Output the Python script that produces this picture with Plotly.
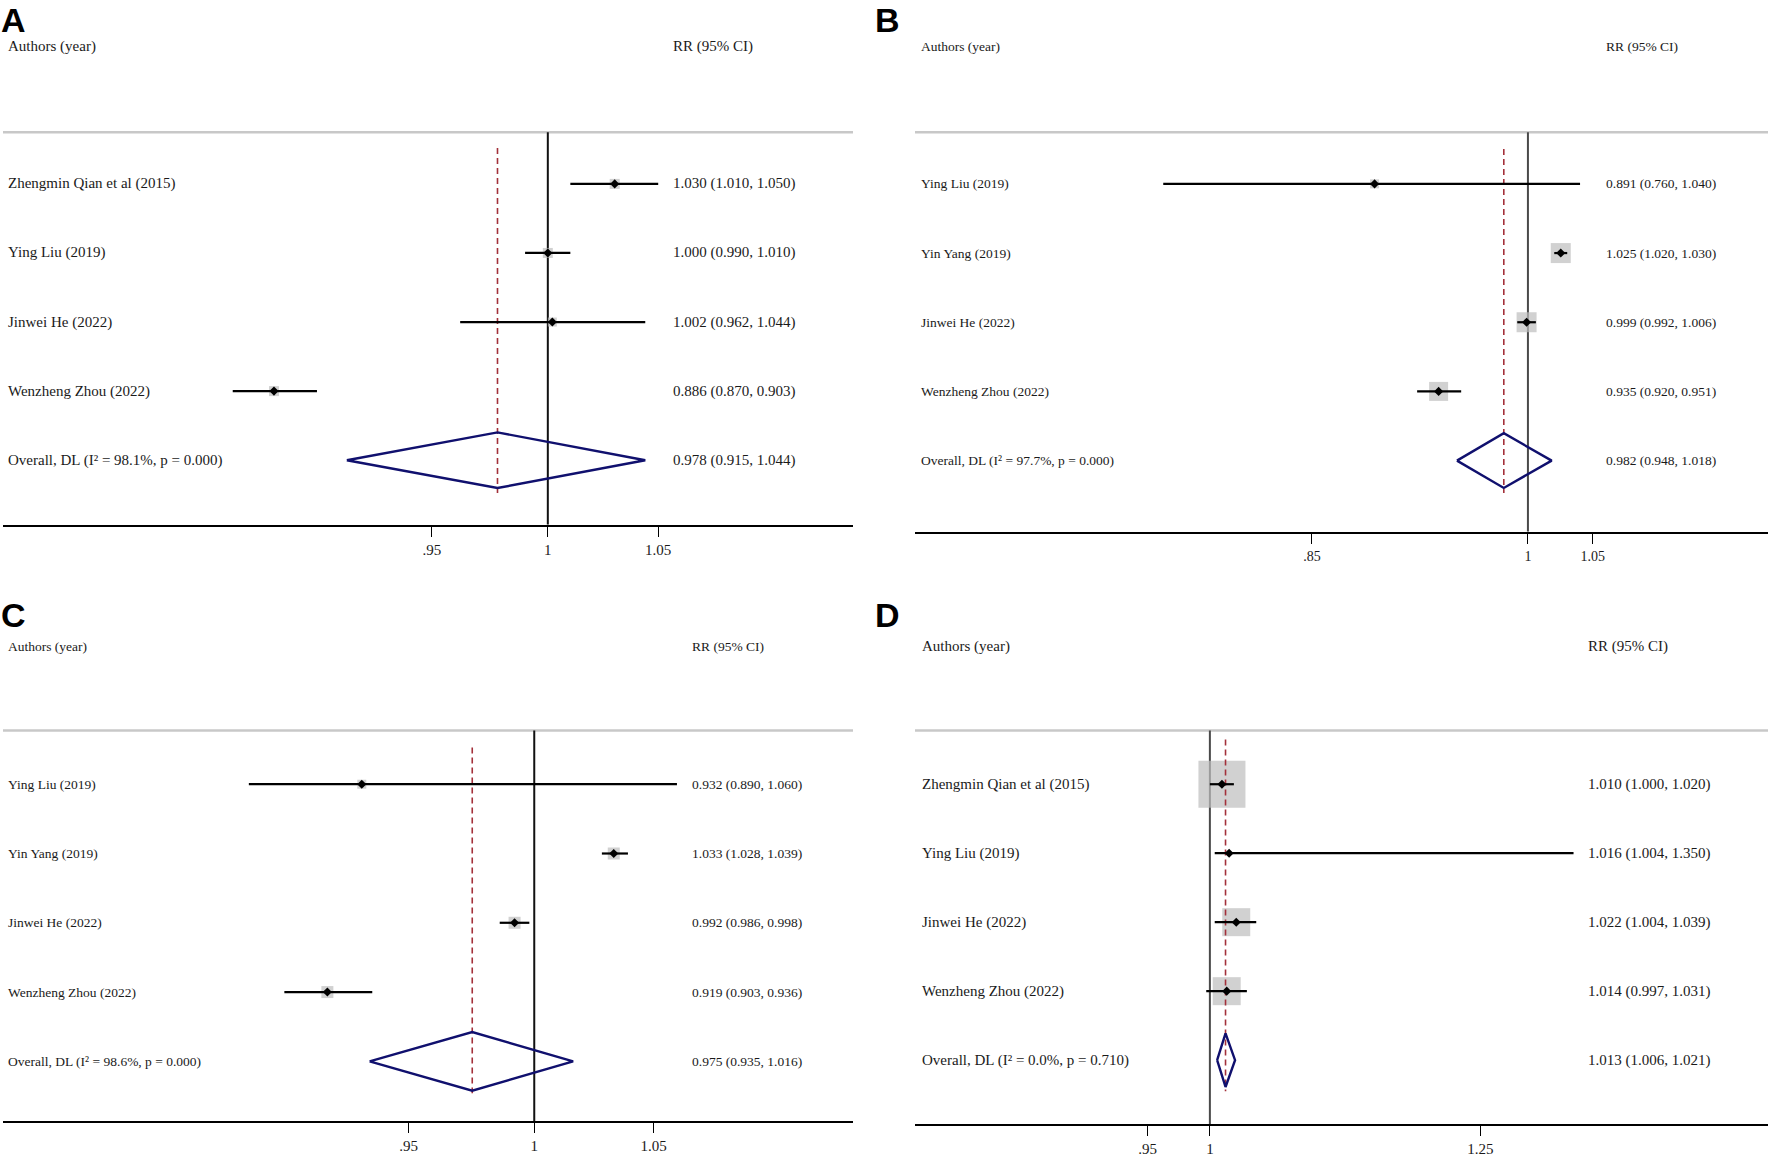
import math
import plotly.graph_objects as go

W, H = 1772, 1157

# ---------------- data ----------------
A_names = ["Zhengmin Qian et al (2015)", "Ying Liu (2019)", "Jinwei He (2022)", "Wenzheng Zhou (2022)"]
A_est = [1.030, 1.000, 1.002, 0.886]
A_lo = [1.010, 0.990, 0.962, 0.870]
A_hi = [1.050, 1.010, 1.044, 0.903]
A_overall = [0.978, 0.915, 1.044]
A_i2 = "98.1%"
A_p = "0.000"
A_box = [10, 10, 9, 10]
A_ticks = [0.95, 1, 1.05]
A_ticktext = [".95", "1", "1.05"]

B_names = ["Ying Liu (2019)", "Yin Yang (2019)", "Jinwei He (2022)", "Wenzheng Zhou (2022)"]
B_est = [0.891, 1.025, 0.999, 0.935]
B_lo = [0.760, 1.020, 0.992, 0.920]
B_hi = [1.040, 1.030, 1.006, 0.951]
B_overall = [0.982, 0.948, 1.018]
B_i2 = "97.7%"
B_p = "0.000"
B_box = [9, 20, 20, 19]
B_ticks = [0.85, 1, 1.05]
B_ticktext = [".85", "1", "1.05"]

C_names = ["Ying Liu (2019)", "Yin Yang (2019)", "Jinwei He (2022)", "Wenzheng Zhou (2022)"]
C_est = [0.932, 1.033, 0.992, 0.919]
C_lo = [0.890, 1.028, 0.986, 0.903]
C_hi = [1.060, 1.039, 0.998, 0.936]
C_overall = [0.975, 0.935, 1.016]
C_i2 = "98.6%"
C_p = "0.000"
C_box = [9, 12, 12, 12]
C_ticks = [0.95, 1, 1.05]
C_ticktext = [".95", "1", "1.05"]

D_names = ["Zhengmin Qian et al (2015)", "Ying Liu (2019)", "Jinwei He (2022)", "Wenzheng Zhou (2022)"]
D_est = [1.010, 1.016, 1.022, 1.014]
D_lo = [1.000, 1.004, 1.004, 0.997]
D_hi = [1.020, 1.350, 1.039, 1.031]
D_overall = [1.013, 1.006, 1.021]
D_i2 = "0.0%"
D_p = "0.710"
D_box = [47, 0, 28, 28]
D_ticks = [0.95, 1, 1.25]
D_ticktext = [".95", "1", "1.25"]

# ---------------- layout geometry (pixels) ----------------
panels = [
    dict(letter="A", names=A_names, est=A_est, lo=A_lo, hi=A_hi, ov=A_overall, i2=A_i2, p=A_p,
         box=A_box, ticks=A_ticks, ticktext=A_ticktext,
         x0=3, x1=853, xlo=0.786, xhi=1.1444, top=0, axis=528, row0=185, drow=69.5, sep=133,
         header=47, letter_y=0, label_x=6, est_x=671, dash=(149, 496), dia_h=28,
         font=15, tickfont=15, refcol="#111111"),
    dict(letter="B", names=B_names, est=B_est, lo=B_lo, hi=B_hi, ov=B_overall, i2=B_i2, p=B_p,
         box=B_box, ticks=B_ticks, ticktext=B_ticktext,
         x0=915, x1=1768, xlo=0.6305, xhi=1.198, top=0, axis=535, row0=185, drow=69.6, sep=133,
         header=47, letter_y=0, label_x=919, est_x=1604, dash=(150, 496), dia_h=27.5,
         font=13.5, tickfont=14, refcol="#4a4a4a"),
    dict(letter="C", names=C_names, est=C_est, lo=C_lo, hi=C_hi, ov=C_overall, i2=C_i2, p=C_p,
         box=C_box, ticks=C_ticks, ticktext=C_ticktext,
         x0=3, x1=853, xlo=0.805, xhi=1.139, top=588, axis=1128, row0=789, drow=69.7, sep=735,
         header=650, letter_y=599, label_x=6, est_x=690, dash=(752, 1100), dia_h=29.5,
         font=13.5, tickfont=15, refcol="#111111"),
    dict(letter="D", names=D_names, est=D_est, lo=D_lo, hi=D_hi, ov=D_overall, i2=D_i2, p=D_p,
         box=D_box, ticks=D_ticks, ticktext=D_ticktext,
         x0=915, x1=1768, xlo=0.784, xhi=1.585, top=588, axis=1131, row0=789, drow=69.4, sep=735,
         header=650, letter_y=599, label_x=920, est_x=1586, dash=(744, 1098), dia_h=27,
         font=15, tickfont=15, refcol="#4a4a4a"),
]
LETTER_X = [0, 874, 0, 874]

SERIF = "Liberation Serif, Times New Roman, serif"
LETTER_FONT = "Liberation Sans Narrow, Arial Narrow, Liberation Sans, Arial, sans-serif"
TXT = "#1a1a1a"

fig = go.Figure()
annotations = []
shapes = []
layout_axes = {}


def px(x):
    return x / W


def py(y):
    return 1 - y / H


for i, P in enumerate(panels):
    k = "" if i == 0 else str(i + 1)
    xa, ya = "x" + k, "y" + k

    def row(pix, P=P):
        return (pix - P["row0"]) / P["drow"]

    n = len(P["names"])
    rows = list(range(n))
    ov_row = n

    # axes
    layout_axes["xaxis" + k] = dict(
        type="log", domain=[px(P["x0"]), px(P["x1"])],
        range=[math.log10(P["xlo"]), math.log10(P["xhi"])],
        anchor=ya, showgrid=False, zeroline=False,
        showline=True, linecolor="black", linewidth=2,
        ticks="outside", ticklen=10, tickwidth=1, tickcolor="black",
        tickvals=P["ticks"], ticktext=P["ticktext"],
        tickfont=dict(family=SERIF, size=P["tickfont"], color=TXT), fixedrange=True,
    )
    layout_axes["yaxis" + k] = dict(
        domain=[py(P["axis"]), py(P["top"])],
        range=[row(P["axis"]), row(P["top"])],
        anchor=xa, visible=False, fixedrange=True,
    )

    # separator line
    shapes.append(dict(type="line", xref=xa + " domain", yref=ya, x0=0, x1=1,
                       y0=row(P["sep"]), y1=row(P["sep"]),
                       line=dict(color="#c8c8c8", width=2.5), layer="below"))

    # reference line at 1
    fig.add_trace(go.Scatter(x=[1, 1], y=[row(P["sep"]), row(P["axis"])], xaxis=xa, yaxis=ya,
                             mode="lines", line=dict(color=P["refcol"], width=2),
                             hoverinfo="skip", showlegend=False, cliponaxis=False))

    # weight boxes
    bx = [e for e, b in zip(P["est"], P["box"]) if b > 0]
    by = [r for r, b in zip(rows, P["box"]) if b > 0]
    bs = [b for b in P["box"] if b > 0]
    fig.add_trace(go.Scatter(x=bx, y=by, xaxis=xa, yaxis=ya, mode="markers",
                             marker=dict(symbol="square", size=bs, color="#bdbdbd",
                                         line=dict(width=0)),
                             hoverinfo="skip", showlegend=False))

    # pooled estimate dashed line
    fig.add_trace(go.Scatter(x=[P["ov"][0], P["ov"][0]], y=[row(P["dash"][0]), row(P["dash"][1])],
                             xaxis=xa, yaxis=ya, mode="lines",
                             line=dict(color="#a3303a", width=1.6, dash="6px,4px"),
                             hoverinfo="skip", showlegend=False))

    # CI lines
    cx, cy = [], []
    for r, l, h in zip(rows, P["lo"], P["hi"]):
        cx += [l, h, None]
        cy += [r, r, None]
    fig.add_trace(go.Scatter(x=cx, y=cy, xaxis=xa, yaxis=ya, mode="lines",
                             line=dict(color="black", width=2.2),
                             hoverinfo="skip", showlegend=False))

    # point estimates
    fig.add_trace(go.Scatter(x=P["est"], y=rows, xaxis=xa, yaxis=ya, mode="markers",
                             marker=dict(symbol="diamond", size=7, color="black"),
                             hoverinfo="skip", showlegend=False))

    # overall diamond
    e, l, h = P["ov"]
    dh = P["dia_h"] / P["drow"]
    fig.add_trace(go.Scatter(x=[l, e, h, e, l], y=[ov_row, ov_row - dh, ov_row, ov_row + dh, ov_row],
                             xaxis=xa, yaxis=ya, mode="lines",
                             line=dict(color="#10106e", width=2.4),
                             hoverinfo="skip", showlegend=False))

    f = P["font"]
    # panel letter
    annotations.append(dict(text="<b>%s</b>" % P["letter"], xref="paper", yref="paper",
                            x=px(LETTER_X[i]), y=py(P["letter_y"]),
                            xanchor="left", yanchor="top", showarrow=False, borderpad=0,
                            font=dict(family=LETTER_FONT, size=34, color="black")))
    # headers
    annotations.append(dict(text="Authors (year)", xref="paper", yref="paper",
                            x=px(P["label_x"]), y=py(P["header"]), xanchor="left", yanchor="middle",
                            showarrow=False, font=dict(family=SERIF, size=f, color=TXT)))
    annotations.append(dict(text="RR (95% CI)", xref="paper", yref="paper",
                            x=px(P["est_x"]), y=py(P["header"]), xanchor="left", yanchor="middle",
                            showarrow=False, font=dict(family=SERIF, size=f, color=TXT)))
    # study rows
    labels = list(P["names"]) + ["Overall, DL (I\u00b2 = %s, p = %s)" % (P["i2"], P["p"])]
    ests = list(zip(P["est"], P["lo"], P["hi"])) + [tuple(P["ov"])]
    for r, (lab, (ee, ll, hh)) in enumerate(zip(labels, ests)):
        annotations.append(dict(text=lab, xref="paper", yref=ya, x=px(P["label_x"]), y=r,
                                xanchor="left", yanchor="middle", showarrow=False,
                                font=dict(family=SERIF, size=f, color=TXT)))
        annotations.append(dict(text="%.3f (%.3f, %.3f)" % (ee, ll, hh), xref="paper", yref=ya,
                                x=px(P["est_x"]), y=r, xanchor="left", yanchor="middle",
                                showarrow=False, font=dict(family=SERIF, size=f, color=TXT)))

fig.update_layout(
    width=W, height=H, margin=dict(l=0, r=0, t=0, b=0),
    paper_bgcolor="white", plot_bgcolor="white",
    showlegend=False, annotations=annotations, shapes=shapes,
    **layout_axes,
)

fig.write_html("out.html", config={"displayModeBar": False},
               post_script="document.body.style.margin='0px';document.body.style.overflow='hidden';")
